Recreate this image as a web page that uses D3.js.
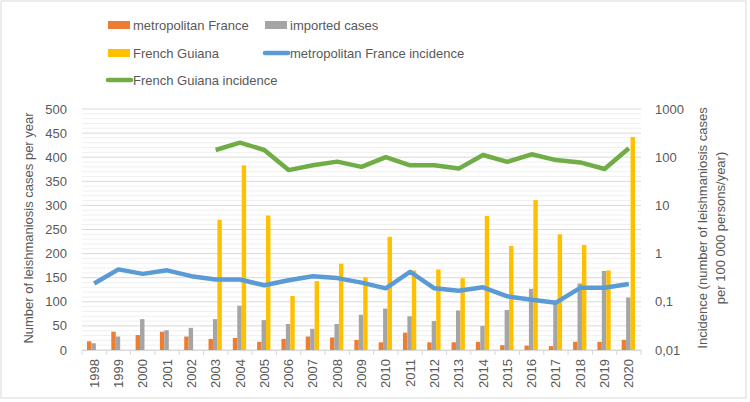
<!DOCTYPE html>
<html>
<head>
<meta charset="utf-8">
<script src="https://cdn.jsdelivr.net/npm/d3@7"></script>
<style>
body { margin: 0; background: #fff; }
text { fill: #595959; }
.num { font-family: "Liberation Sans", Arial, sans-serif; font-size: 13px; }
.lbl { font-family: "Liberation Sans Narrow", "Liberation Sans", sans-serif; font-size: 13px; }
</style>
</head>
<body>
<svg width="750" height="402"></svg>
<script>
// data
var years = ["1998","1999","2000","2001","2002","2003","2004","2005","2006","2007","2008","2009","2010","2011","2012","2013","2014","2015","2016","2017","2018","2019","2020"];
var metro = [18,38,31,38,28,23,25,17,23,28,26,21,16,36,16,16,17,10,9,8,17,17,21];
var imported = [14,28,64,41,46,64,92,62,54,44,54,73,86,70,60,82,50,83,127,98,138,164,109];
var guiana = [null,null,null,null,null,270,383,279,112,143,179,151,235,165,167,149,278,216,311,240,218,165,442];
var metroInc = [0.24,0.47,0.38,0.45,0.34,0.29,0.29,0.22,0.28,0.34,0.31,0.25,0.19,0.42,0.19,0.17,0.20,0.13,0.11,0.096,0.195,0.195,0.233];
var guianaInc = [null,null,null,null,null,141,200,141,54,68,81,63,100,68,68,58,111,80,115,87,78,57,153];
var leftTicks = [0,50,100,150,200,250,300,350,400,450,500];
var rightTicks = [0.01,0.1,1,10,100,1000];

var svg = d3.select("svg");
var colors = {metro: "#ED7D31", imported: "#A5A5A5", guiana: "#FFC000", metroInc: "#5B9BD5", guianaInc: "#70AD47"};

// chart border
svg.append("rect")
  .attr("x", 1).attr("y", 1).attr("width", 745).attr("height", 397)
  .attr("fill", "#fff").attr("stroke", "#d9d9d9");

// scales
var x = d3.scaleBand().domain(years).range([82, 641]);
var y = d3.scaleLinear().domain([0, 500]).range([350, 109]);
var yLog = d3.scaleLog().domain([0.01, 1000]).range([350, 109]);
var keys = ["metro", "imported", "guiana"];
var x1 = d3.scaleBand().domain(keys).range([5, x.bandwidth() - 6]);

// gridlines, minor every 10 and major every 50
svg.append("g").selectAll("line")
  .data(d3.range(10, 500, 10).filter(function(d) { return d % 50 != 0; }))
  .enter().append("line")
  .attr("x1", 82).attr("x2", 641)
  .attr("y1", function(d) { return y(d); }).attr("y2", function(d) { return y(d); })
  .attr("stroke", "#f0f0f0");
svg.append("g").selectAll("line")
  .data(leftTicks)
  .enter().append("line")
  .attr("x1", 82).attr("x2", 641)
  .attr("y1", function(d) { return y(d); }).attr("y2", function(d) { return y(d); })
  .attr("stroke", "#d9d9d9");

// left axis labels
svg.append("g").selectAll("text")
  .data(leftTicks)
  .enter().append("text")
  .attr("class", "num")
  .attr("x", 67).attr("y", function(d) { return y(d); })
  .attr("dy", "0.35em").attr("text-anchor", "end")
  .text(function(d) { return d; });

// right axis labels (log)
svg.append("g").selectAll("text")
  .data(rightTicks)
  .enter().append("text")
  .attr("class", "num")
  .attr("x", 655).attr("y", function(d) { return yLog(d); })
  .attr("dy", "0.35em")
  .text(function(d) { return String(d).replace(".", ","); });

// x axis with ticks between categories
var xAxis = svg.append("g").attr("transform", "translate(0,350)")
  .call(d3.axisBottom(x).tickSize(0).tickFormat(""));
xAxis.select(".domain").attr("stroke", "#d9d9d9");
svg.append("g").selectAll("line")
  .data(years.concat(["end"]))
  .enter().append("line")
  .attr("x1", function(d, i) { return 82 + i * x.step(); })
  .attr("x2", function(d, i) { return 82 + i * x.step(); })
  .attr("y1", 350).attr("y2", 355)
  .attr("stroke", "#d9d9d9");
svg.append("g").selectAll("text")
  .data(years)
  .enter().append("text")
  .attr("class", "num")
  .attr("transform", function(d) { return "translate(" + (x(d) + x.bandwidth() / 2) + ",359) rotate(-90)"; })
  .attr("dy", "0.35em").attr("text-anchor", "end")
  .text(function(d) { return d; });

// bars
var series = {metro: metro, imported: imported, guiana: guiana};
keys.forEach(function(k) {
  svg.append("g").selectAll("rect")
    .data(years.map(function(yr, i) { return {year: yr, v: series[k][i]}; }).filter(function(d) { return d.v != null; }))
    .enter().append("rect")
    .attr("x", function(d) { return x(d.year) + x1(k); })
    .attr("width", x1.bandwidth())
    .attr("y", function(d) { return y(d.v); })
    .attr("height", function(d) { return 350 - y(d.v); })
    .attr("fill", colors[k]);
});

// incidence lines on the log scale
var line = d3.line()
  .defined(function(d) { return d.v != null; })
  .x(function(d) { return x(d.year) + x.bandwidth() / 2; })
  .y(function(d) { return yLog(d.v); });
[["metroInc", metroInc], ["guianaInc", guianaInc]].forEach(function(s) {
  svg.append("path")
    .datum(years.map(function(yr, i) { return {year: yr, v: s[1][i]}; }))
    .attr("fill", "none")
    .attr("stroke", colors[s[0]])
    .attr("stroke-width", 4.5)
    .attr("stroke-linejoin", "round")
    .attr("d", line);
});

// axis titles
svg.append("text").attr("class", "lbl")
  .attr("transform", "translate(28,228) rotate(-90)")
  .attr("text-anchor", "middle").attr("dy", "0.35em")
  .text("Number of leishmaniosis cases per year");
var rt = svg.append("text").attr("class", "lbl")
  .attr("transform", "translate(702,228) rotate(-90)")
  .attr("text-anchor", "middle").attr("dy", "0.35em");
rt.append("tspan").attr("x", 0).text("Incidence (number of leishmaniosis cases");
rt.append("tspan").attr("x", 0).attr("dy", "1.45em").text("per 100 000 persons/year)");

// legend
var legend = [
  {name: "metropolitan France", key: "metro", type: "bar", x: 108, y: 25},
  {name: "imported cases", key: "imported", type: "bar", x: 265, y: 25},
  {name: "French Guiana", key: "guiana", type: "bar", x: 108, y: 53},
  {name: "metropolitan France incidence", key: "metroInc", type: "line", x: 265, y: 53},
  {name: "French Guiana incidence", key: "guianaInc", type: "line", x: 108, y: 80}
];
legend.forEach(function(l) {
  if (l.type == "bar") {
    svg.append("rect").attr("x", l.x).attr("y", l.y - 4).attr("width", 22).attr("height", 8).attr("fill", colors[l.key]);
  } else {
    svg.append("line").attr("x1", l.x).attr("x2", l.x + 23).attr("y1", l.y).attr("y2", l.y)
      .attr("stroke", colors[l.key]).attr("stroke-width", 4.5).attr("stroke-linecap", "round");
  }
  svg.append("text").attr("class", "lbl")
    .attr("x", l.x + 25).attr("y", l.y).attr("dy", "0.35em")
    .text(l.name);
});
</script>
</body>
</html>
